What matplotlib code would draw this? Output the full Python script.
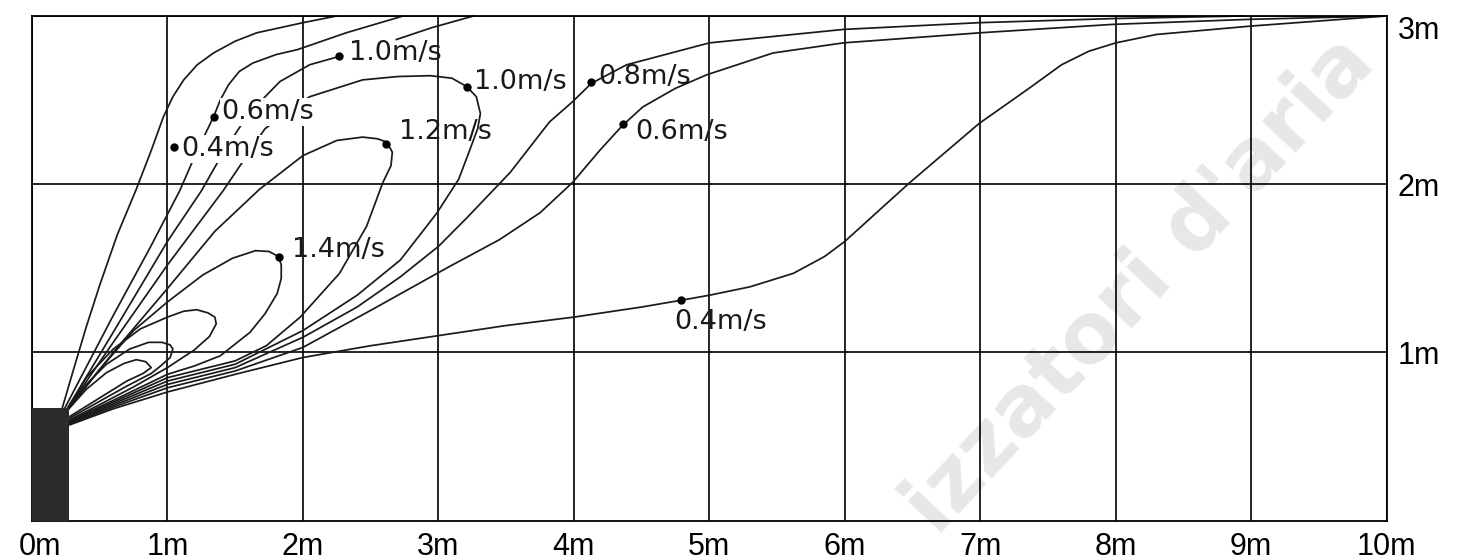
import matplotlib.pyplot as plt
import matplotlib.patches as mpatches
from matplotlib.transforms import ScaledTranslation

# isovelocity contours of the air jet (metres)
# 0.4 m/s
v04_up_x = [0.22, 0.30, 0.40, 0.50, 0.63, 0.77, 0.88, 0.97, 1.04, 1.12, 1.22, 1.34, 1.50, 1.66, 2.00, 2.25]
v04_up_y = [0.66, 0.88, 1.15, 1.40, 1.70, 1.97, 2.20, 2.40, 2.52, 2.62, 2.71, 2.78, 2.85, 2.90, 2.96, 3.00]
v04_lo_x = [0.28, 0.60, 1.00, 1.50, 2.00, 2.50, 3.00, 3.50, 4.00, 4.50, 4.79, 5.00, 5.30,
            5.62, 5.85, 6.00, 6.48, 6.99, 7.36, 7.60, 7.80, 8.00, 8.30, 9.00, 9.50, 10.0]
v04_lo_y = [0.57, 0.665, 0.765, 0.87, 0.97, 1.04, 1.10, 1.16, 1.21, 1.27, 1.31, 1.34, 1.39,
            1.47, 1.57, 1.66, 2.01, 2.36, 2.57, 2.71, 2.79, 2.84, 2.89, 2.94, 2.97, 3.00]

# 0.6 m/s
v06_up_x = [0.23, 0.60, 0.87, 1.09, 1.22, 1.34, 1.39, 1.45, 1.53, 1.63, 1.80, 1.96, 2.32, 2.74]
v06_up_y = [0.65, 1.22, 1.62, 1.96, 2.20, 2.40, 2.50, 2.59, 2.67, 2.72, 2.77, 2.80, 2.90, 3.00]
v06_lo_x = [0.28, 0.60, 1.00, 1.50, 2.00, 2.50, 3.08, 3.45, 3.75, 3.99, 4.19, 4.36, 4.51,
            4.75, 4.98, 5.47, 5.99, 7.00, 7.98, 8.99, 10.0]
v06_lo_y = [0.575, 0.675, 0.79, 0.89, 1.03, 1.25, 1.51, 1.67, 1.83, 2.01, 2.20, 2.35, 2.46,
            2.57, 2.65, 2.78, 2.84, 2.90, 2.95, 2.98, 3.00]

# 0.8 m/s (upper branch carries the "1.0m/s" label at the top)
v08_up_x = [0.24, 0.60, 1.00, 1.25, 1.42, 1.60, 1.83, 2.05, 2.27]
v08_up_y = [0.64, 1.12, 1.66, 1.96, 2.20, 2.42, 2.61, 2.71, 2.76]
v08_tail_x = [2.69, 2.95, 3.26]
v08_tail_y = [2.86, 2.93, 3.00]
v08_lo_x = [0.28, 0.60, 1.00, 1.50, 2.00, 2.40, 2.72, 3.00, 3.21, 3.53, 3.82, 3.99, 4.13,
            4.39, 5.00, 5.99, 6.99, 8.00, 8.95]
v08_lo_y = [0.58, 0.685, 0.81, 0.91, 1.09, 1.27, 1.45, 1.63, 1.80, 2.07, 2.37, 2.49, 2.60,
            2.71, 2.84, 2.92, 2.96, 2.985, 3.00]

# 1.0 m/s closed loop
v10_x = [0.28, 0.60, 1.00, 1.50, 2.00, 2.40, 2.72, 2.99, 3.15, 3.23, 3.29, 3.31, 3.28,
         3.21, 3.10, 2.94, 2.70, 2.44, 2.05, 1.72, 1.41, 1.00, 0.60, 0.24]
v10_y = [0.585, 0.695, 0.83, 0.93, 1.13, 1.34, 1.55, 1.83, 2.03, 2.20, 2.33, 2.42, 2.52,
         2.58, 2.63, 2.645, 2.64, 2.62, 2.52, 2.33, 1.96, 1.52, 1.06, 0.64]

# 1.2 m/s closed loop
v12_x = [0.28, 0.60, 1.00, 1.50, 1.73, 1.98, 2.27, 2.47, 2.59, 2.65, 2.66, 2.62, 2.55, 2.44,
         2.25, 2.00, 1.68, 1.35, 1.00, 0.60, 0.25]
v12_y = [0.59, 0.705, 0.85, 0.95, 1.04, 1.21, 1.47, 1.75, 2.01, 2.11, 2.19, 2.25, 2.27, 2.28,
         2.26, 2.17, 1.97, 1.72, 1.38, 1.00, 0.645]

# 1.4 m/s closed loop
v14_x = [0.28, 0.60, 1.00, 1.20, 1.39, 1.61, 1.72, 1.81, 1.84, 1.84, 1.82, 1.75, 1.65, 1.48,
         1.26, 1.00, 0.75, 0.50, 0.25]
v14_y = [0.595, 0.715, 0.87, 0.92, 0.98, 1.12, 1.23, 1.35, 1.44, 1.52, 1.57, 1.60, 1.605, 1.56,
         1.46, 1.30, 1.13, 0.90, 0.645]

# inner loops (unlabelled)
f_x = [0.28, 0.50, 0.75, 1.00, 1.20, 1.31, 1.36, 1.35, 1.30, 1.215, 1.12, 1.00, 0.80, 0.60, 0.40, 0.25]
f_y = [0.60, 0.69, 0.795, 0.91, 1.016, 1.095, 1.17, 1.21, 1.235, 1.254, 1.245, 1.21, 1.14, 1.02, 0.85, 0.645]
g_x = [0.28, 0.50, 0.70, 0.88, 0.95, 1.02, 1.04, 1.02, 0.96, 0.86, 0.72, 0.55, 0.40, 0.25]
g_y = [0.61, 0.71, 0.80, 0.875, 0.92, 0.97, 1.02, 1.045, 1.06, 1.06, 1.02, 0.93, 0.81, 0.645]
h_x = [0.28, 0.50, 0.70, 0.82, 0.88, 0.84, 0.77, 0.68, 0.55, 0.40, 0.25]
h_y = [0.62, 0.73, 0.83, 0.875, 0.91, 0.945, 0.957, 0.935, 0.88, 0.78, 0.645]

# labels
label_text = ["0.4m/s", "0.6m/s", "1.0m/s", "1.2m/s", "1.0m/s", "0.8m/s", "0.6m/s", "1.4m/s", "0.4m/s"]
dot_x = [1.05, 1.34, 2.27, 2.61, 3.21, 4.13, 4.36, 1.82, 4.79]
dot_y = [2.22, 2.40, 2.76, 2.24, 2.58, 2.61, 2.36, 1.57, 1.31]
text_x = [1.10, 1.40, 2.34, 2.71, 3.26, 4.18, 4.45, 1.92, 4.74]
text_y = [2.21, 2.43, 2.78, 2.31, 2.61, 2.64, 2.31, 1.61, 1.18]
masked = [True, True, False, False, False, False, False, False, False]

x_ticks = list(range(11))
x_labels = [f"{i}m" for i in x_ticks]
y_ticks = [1, 2, 3]
y_labels = ["1m", "2m", "3m"]

unit_w, unit_h = 0.27, 0.67

fig = plt.figure(figsize=(14.6, 5.6), dpi=100)
ax = fig.add_axes([0.0219, 0.0702, 0.9279, 0.9013])
ax.set_facecolor("none")

# watermark
ax.text(0.781, 0.49, "izzatori d'aria", transform=fig.transFigure, fontsize=60,
        fontweight="bold", color="#e7e7e7", rotation=47, ha="center", va="center",
        zorder=0.5, clip_on=False)

lc = "#1a1a1a"
lw = 1.25
curves = [(v04_up_x, v04_up_y), (v04_lo_x, v04_lo_y),
          (v06_up_x, v06_up_y), (v06_lo_x, v06_lo_y),
          (v08_up_x, v08_up_y), (v08_tail_x, v08_tail_y), (v08_lo_x, v08_lo_y),
          (v10_x, v10_y), (v12_x, v12_y), (v14_x, v14_y),
          (f_x, f_y), (g_x, g_y), (h_x, h_y)]
for cx, cy in curves:
    ax.plot(cx, cy, color=lc, lw=lw, solid_joinstyle="round", zorder=2, clip_on=False)

ax.add_patch(mpatches.Rectangle((0, 0), unit_w, unit_h, facecolor="#2b2b2b",
                                edgecolor="none", zorder=3))

ax.plot(dot_x, dot_y, "o", color="black", ms=5, zorder=4)
for t, tx, ty, m in zip(label_text, text_x, text_y, masked):
    kw = {}
    if m:
        kw["bbox"] = dict(facecolor="white", edgecolor="none", pad=1)
    ax.text(tx, ty, t, fontsize=19.5, family="DejaVu Sans", color="#1a1a1a",
            ha="left", va="center", zorder=5, **kw)

ax.set_xlim(0, 10)
ax.set_ylim(0, 3)
ax.set_xticks(x_ticks)
ax.set_xticklabels(x_labels, family="Liberation Sans", fontsize=22)
ax.yaxis.tick_right()
ax.set_yticks(y_ticks)
ax.set_yticklabels(y_labels, family="Liberation Sans", fontsize=22)
ax.get_yticklabels()[-1].set_va("top")
ax.tick_params(length=0, pad=8)
first = ax.get_xticklabels()[0]
first.set_transform(first.get_transform() + ScaledTranslation(0.08, 0, fig.dpi_scale_trans))
ax.grid(True, color="black", lw=1.2)
for s in ax.spines.values():
    s.set_linewidth(1.3)
    s.set_color("black")

fig.savefig("out.png", dpi=100, facecolor="white")
